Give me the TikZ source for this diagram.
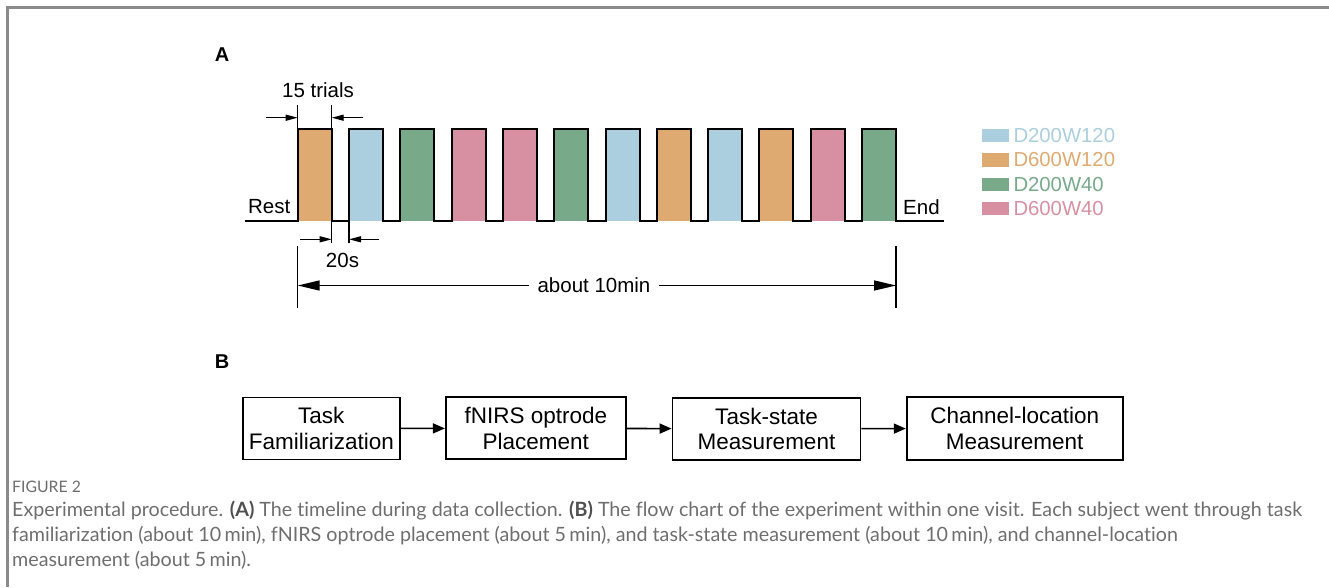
\documentclass[tikz,border=0pt]{standalone}
\usepackage{fontspec}
\setmainfont{Liberation Sans}
\newfontfamily\capfont[Ligatures=NoCommon]{Lato}
\usetikzlibrary{arrows.meta}

\definecolor{cblue}{HTML}{ABCFDE}
\definecolor{corange}{HTML}{DFAA72}
\definecolor{cgreen}{HTML}{78AA8A}
\definecolor{cpink}{HTML}{D690A2}
\definecolor{frame}{HTML}{8A8A8A}
\definecolor{captxt}{HTML}{6E6E6E}
\definecolor{capbold}{HTML}{505050}

\newcommand{\capb}[1]{\textcolor{capbold}{\textbf{#1}}}

\tikzset{
  lbl/.style={inner sep=0pt, font=\fontsize{20.5}{24}\selectfont},
  panel/.style={inner sep=0pt, font=\fontsize{20}{22}\selectfont\bfseries},
  legtxt/.style={inner sep=0pt, anchor=west, font=\fontsize{20.3}{24}\selectfont},
  flowbox/.style={draw, line width=1.8pt, inner sep=0pt, align=center,
    font=\fontsize{22.5}{25.7}\selectfont},
  dimarrow/.style={line width=1.3pt, -{Triangle[length=12pt,width=6pt]}},
  spanarrow/.style={line width=1.5pt, -{Triangle[length=22pt,width=10pt]}},
  flowarrow/.style={line width=1.6pt, -{Triangle[length=12pt,width=10pt]}},
  caption/.style={inner sep=0pt, anchor=base west, text=captxt,
    font=\capfont\fontsize{19.7}{25}\selectfont},
}

\begin{document}
\begin{tikzpicture}[x=1pt, y=-1pt]
\useasboundingbox (0,0) rectangle (1329,587);
% outer frame (top and left edges)
\draw[frame, line width=2.5pt] (7.5,587) -- (7.5,7.5) -- (1329,7.5);

% ---------- panel A: timeline ----------
\node[panel] (pA) at (222,55) {A};

\def\base{220.7}
\def\top{128.7}
% blocks
\foreach \c [count=\i from 0] in {corange,cblue,cgreen,cpink,cpink,cgreen,cblue,corange,cblue,corange,cpink,cgreen}{
  \pgfmathsetmacro{\xl}{297.7+51.3*\i}
  \fill[\c] (\xl,\top) rectangle (\xl+34,\base);
}
% signal outline
\draw[line width=2pt, line join=miter]
  (245,\base)
  \foreach \i in {0,...,11}{
    -- ({297.7+51.3*\i},\base) -- ({297.7+51.3*\i},\top)
    -- ({331.7+51.3*\i},\top) -- ({331.7+51.3*\i},\base)
  } -- (944.3,\base);

\node[lbl, anchor=east] (rest) at (290.5,207) {Rest};
\node[lbl, anchor=west] (end) at (903,207) {End};

% extension lines
\coordinate (t1) at (297.7,105);
\coordinate (t2) at (331.7,105);
\coordinate (t2b) at (331.7,243);
\coordinate (t3) at (349,220.7);
\coordinate (t3b) at (349,243);
\draw[line width=1.5pt] (t1) -- (297.7,\top);
\draw[line width=1.5pt] (t2) -- (t2b);
\draw[line width=1.5pt] (t3) -- (t3b);

% 15 trials
\node[lbl] (trials) at (318,90) {15 trials};
\coordinate (a1) at (266,117.7);
\coordinate (a1e) at (297.7,117.7);
\coordinate (a2) at (363,117.7);
\coordinate (a2e) at (331.7,117.7);
\draw[dimarrow] (a1) -- (a1e);
\draw[dimarrow] (a2) -- (a2e);

% 20s
\node[lbl] (rest20) at (342.5,260) {20s};
\coordinate (b1) at (300,239.3);
\coordinate (b1e) at (331.7,239.3);
\coordinate (b2) at (379,239.3);
\coordinate (b2e) at (349,239.3);
\draw[dimarrow] (b1) -- (b1e);
\draw[dimarrow] (b2) -- (b2e);

% about 10min
\coordinate (s1) at (297.7,246);
\coordinate (s1b) at (297.7,308);
\coordinate (s2) at (896,246);
\coordinate (s2b) at (896,308);
\draw[line width=1.5pt] (s1) -- (s1b);
\draw[line width=1.5pt] (s2) -- (s2b);
\node[lbl, fill=white, inner xsep=8pt] (dur) at (594,285.5) {about 10min};
\coordinate (sl) at (297.7,285.5);
\coordinate (sr) at (896,285.5);
\draw[spanarrow] (dur.west) -- (sl);
\draw[spanarrow] (dur.east) -- (sr);

% legend
\foreach \c/\t/\y in {cblue/D200W120/135.7, corange/D600W120/159.8, cgreen/D200W40/184.3, cpink/D600W40/208.3}{
  \fill[\c] (981.7,\y-6.7) rectangle (1009,\y+6.7);
  \node[legtxt, text=\c] at (1013.3,\y) {\t};
}

% ---------- panel B: flow chart ----------
\node[panel] (pB) at (222,361.5) {B};

\node[flowbox, minimum width=157pt, minimum height=62pt] (f1) at (321.3,428.5) {Task\\Familiarization};
\node[flowbox, minimum width=180pt, minimum height=62pt] (f2) at (535.8,428.3) {fNIRS optrode\\Placement};
\node[flowbox, minimum width=188pt, minimum height=62pt] (f3) at (766.5,428.8) {Task-state\\Measurement};
\node[flowbox, minimum width=216pt, minimum height=63pt] (f4) at (1014.7,428.4) {Channel-location\\Measurement};

\draw[flowarrow] (f1) -- (f2);
\draw[flowarrow] (f2) -- (f3);
\draw[flowarrow] (f3) -- (f4);

% ---------- caption ----------
\node[caption, font=\capfont\fontsize{15.8}{18}\selectfont] (figno) at (12,492.5) {FIGURE 2};
\node[caption] (cap1) at (12,516.5) {Experimental procedure. \capb{(A)} The timeline during data collection. \capb{(B)} The flow chart of the experiment within one visit. Each subject went through task};
\node[caption] (cap2) at (12,541.5) {familiarization (about 10\,min), fNIRS optrode placement (about 5\,min), and task-state measurement (about 10\,min), and channel-location};
\node[caption] (cap3) at (12,566.5) {measurement (about 5\,min).};
\end{tikzpicture}
\end{document}
